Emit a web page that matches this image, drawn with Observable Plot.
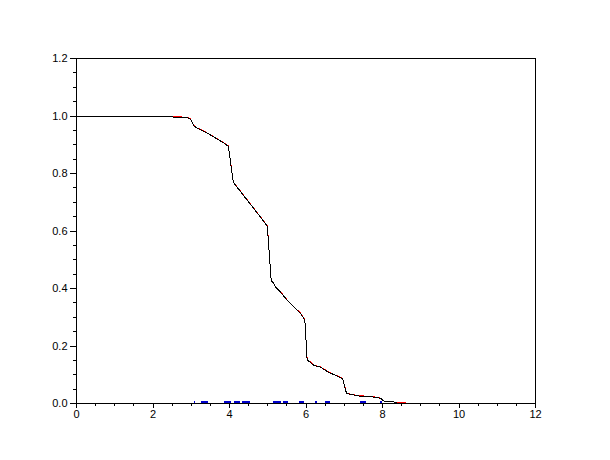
<!DOCTYPE html>
<html>
<head>
<meta charset="utf-8">
<script src="https://cdn.jsdelivr.net/npm/d3@7"></script>
<script src="https://cdn.jsdelivr.net/npm/@observablehq/plot@0.6"></script>
<style>
  html, body { margin: 0; padding: 0; background: #fff; }
  svg { display: block; }
  svg path, svg line, svg rect { shape-rendering: crispEdges; }
</style>
</head>
<body>
<div id="chart"></div>
<script>
// Black curve (survival estimate)
const blackX = [0, 2.39, 2.40, 2.89, 2.98, 3.07, 3.16, 3.29, 3.46, 3.68, 3.85, 3.97, 4.10, 4.16, 4.37, 4.64, 4.81, 4.99, 5.09, 5.16, 5.20, 5.33, 5.51, 5.68, 5.86, 5.97, 6.03, 6.10, 6.20, 6.38, 6.60, 6.82, 6.95, 6.96, 7.06, 7.12, 7.38, 7.69, 7.95, 8.02, 8.08, 8.37];
const blackY = [1.0, 1.0, 0.997, 0.995, 0.989, 0.966, 0.957, 0.949, 0.937, 0.920, 0.906, 0.895, 0.769, 0.759, 0.723, 0.677, 0.648, 0.616, 0.428, 0.417, 0.405, 0.388, 0.359, 0.336, 0.313, 0.290, 0.151, 0.145, 0.133, 0.126, 0.108, 0.095, 0.087, 0.084, 0.035, 0.033, 0.026, 0.024, 0.018, 0.010, 0.006, 0.005];
// Red curve (second estimate, nearly identical)
const redX = [0, 2.39, 2.40, 2.89, 2.98, 3.07, 3.16, 3.29, 3.46, 3.68, 3.85, 3.97, 4.10, 4.16, 4.37, 4.64, 4.81, 4.99, 5.09, 5.16, 5.20, 5.33, 5.51, 5.68, 5.86, 5.97, 6.03, 6.10, 6.20, 6.38, 6.60, 6.82, 6.95, 6.96, 7.06, 7.12, 7.38, 7.69, 7.95, 8.02, 8.08, 8.37, 8.60];
const redY = [1.0, 1.0, 0.998, 0.996, 0.990, 0.967, 0.958, 0.950, 0.938, 0.921, 0.907, 0.896, 0.770, 0.760, 0.724, 0.678, 0.649, 0.617, 0.429, 0.418, 0.406, 0.389, 0.360, 0.337, 0.314, 0.291, 0.152, 0.146, 0.134, 0.127, 0.109, 0.096, 0.088, 0.085, 0.036, 0.034, 0.027, 0.025, 0.019, 0.011, 0.006, 0.005, 0.005];
// Blue difference marks near zero
const blueStart = [3.08, 3.27, 3.87, 4.14, 4.35, 5.16, 5.42, 5.84, 6.26, 6.52, 7.43, 7.96];
const blueEnd   = [3.10, 3.45, 4.04, 4.28, 4.55, 5.36, 5.55, 5.97, 6.31, 6.65, 7.57, 8.01];
const blueLevel = 0.006;

// Axis ticks and labels
const xTicks = [0, 2, 4, 6, 8, 10, 12];
const xTickLabels = ["0", "2", "4", "6", "8", "10", "12"];
const xMinor = [0.5, 1, 1.5, 2.5, 3, 3.5, 4.5, 5, 5.5, 6.5, 7, 7.5, 8.5, 9, 9.5, 10.5, 11, 11.5];
const yTicks = [0, 0.2, 0.4, 0.6, 0.8, 1.0, 1.2];
const yTickLabels = ["0.0", "0.2", "0.4", "0.6", "0.8", "1.0", "1.2"];
const yMinor = [0.05, 0.1, 0.15, 0.25, 0.3, 0.35, 0.45, 0.5, 0.55, 0.65, 0.7, 0.75, 0.85, 0.9, 0.95, 1.05, 1.1, 1.15];

const black = blackX.map((x, i) => ({x, y: blackY[i]}));
const red = redX.map((x, i) => ({x, y: redY[i]}));
const blue = blueStart.map((s, i) => ({x1: s, x2: blueEnd[i], y: blueLevel}));

const chart = Plot.plot({
  width: 610,
  height: 460,
  marginLeft: 76,
  marginRight: 75,
  marginTop: 58,
  marginBottom: 57,
  style: {fontFamily: "Liberation Sans, Arial, sans-serif", fontSize: "11px", color: "black", background: "white"},
  x: {domain: [0, 12]},
  y: {domain: [0, 1.2]},
  marks: [
    Plot.ruleY(blue, {x1: "x1", x2: "x2", y: "y", stroke: "#0000cc", strokeWidth: 1.5}),
    Plot.line(red, {x: "x", y: "y", stroke: "red", strokeWidth: 1}),
    Plot.line(black, {x: "x", y: "y", stroke: "black", strokeWidth: 1}),
    Plot.axisX(xMinor, {anchor: "bottom", tickSize: 2.5, tickFormat: () => "", label: null, stroke: "black"}),
    Plot.axisX(xTicks, {anchor: "bottom", tickSize: 4.5, tickPadding: 2.5, tickFormat: (d) => xTickLabels[xTicks.indexOf(d)], label: null, stroke: "black", fill: "black"}),
    Plot.axisY(yMinor, {anchor: "left", tickSize: 3.5, tickFormat: () => "", label: null, stroke: "black"}),
    Plot.axisY(yTicks, {anchor: "left", tickSize: 6, tickPadding: 3, tickFormat: (d) => yTickLabels[yTicks.indexOf(d)], label: null, stroke: "black", fill: "black"}),
    Plot.frame({stroke: "black", strokeWidth: 1})
  ]
});
document.getElementById("chart").appendChild(chart);
</script>
</body>
</html>
